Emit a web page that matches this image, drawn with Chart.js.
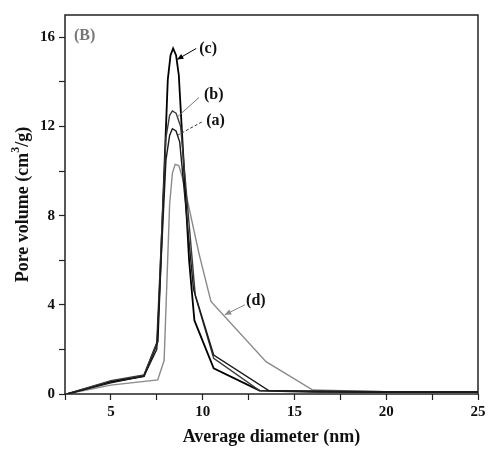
<!DOCTYPE html>
<html>
<head>
<meta charset="utf-8">
<script src="https://cdn.jsdelivr.net/npm/chart.js@4"></script>
<style>
  html, body { margin: 0; padding: 0; background: #fff; }
  #wrap { width: 489px; height: 451px; }
</style>
</head>
<body>
<div id="wrap"><canvas id="poreChart" width="489" height="451"></canvas></div>
<script>
// diameters (nm) and pore volumes (cm3/g)
const xA = [2.6, 5.0, 6.8, 7.5, 8.0, 8.2, 8.35, 8.55, 8.75, 9.5, 10.6, 13.6, 16, 20, 25];
const yA = [0, 0.5, 0.8, 2.0, 10.5, 11.6, 11.9, 11.8, 11.3, 4.7, 1.75, 0.15, 0.12, 0.1, 0.1];

const xB = [2.6, 5.0, 6.8, 7.5, 8.0, 8.2, 8.35, 8.55, 8.8, 9.6, 10.6, 13.1, 16, 20, 25];
const yB = [0, 0.6, 0.85, 2.3, 11.5, 12.5, 12.7, 12.6, 12.0, 4.4, 1.6, 0.15, 0.12, 0.1, 0.1];

const xC = [2.6, 5.0, 6.8, 7.55, 8.1, 8.25, 8.39, 8.55, 8.7, 9.26, 9.55, 10.6, 13.1, 16, 20, 25];
const yC = [0, 0.55, 0.8, 2.35, 14.1, 15.2, 15.5, 15.2, 14.3, 6.0, 3.3, 1.15, 0.15, 0.1, 0.08, 0.08];

const xD = [2.6, 5.0, 7.55, 7.9, 8.2, 8.35, 8.5, 8.7, 8.9, 9.8, 10.45, 13.45, 16, 20, 25];
const yD = [0, 0.4, 0.63, 1.5, 8.5, 9.9, 10.3, 10.25, 9.7, 6.3, 4.15, 1.45, 0.18, 0.1, 0.08];

const seriesNames = ['(a)', '(b)', '(c)', '(d)'];
const seriesColors = ['#1a1a1a', '#3a3a3a', '#000000', '#8a8a8a'];

const xTickLabels = [5, 10, 15, 20, 25];
const yTickLabels = [0, 4, 8, 12, 16];

// annotation labels: [text, textX, textY, lineFromX, lineFromY, lineToX, lineToY, colour, dashed, arrow]
const notes = [
    ['(c)', 10.3, 15.5, 9.65, 15.5, 8.6, 15.0, '#000', false, true],
    ['(b)', 10.6, 13.4, 9.8, 13.3, 8.65, 12.45, '#777', false, false],
    ['(a)', 10.7, 12.27, 9.95, 12.2, 8.62, 11.6, '#333', true, false],
    ['(d)', 12.9, 4.18, 12.3, 4.0, 11.2, 3.55, '#888', false, true]
];

const toPoints = (xs, ys) => xs.map((x, i) => ({ x: x, y: ys[i] }));

const serif = '"Liberation Serif", serif';

const frame = {
    id: 'frame',
    afterDraw(chart) {
        const ctx = chart.ctx;
        const a = chart.chartArea;
        const sx = chart.scales.x, sy = chart.scales.y;
        ctx.save();
        ctx.strokeStyle = '#222';
        ctx.lineWidth = 1.5;
        ctx.strokeRect(a.left, a.top, a.right - a.left, a.bottom - a.top);

        ctx.font = 'bold 16px ' + serif;
        ctx.textBaseline = 'middle';
        ctx.fillStyle = '#777';
        ctx.textAlign = 'left';
        ctx.fillText('(B)', a.left + 9, a.top + 21);

        notes.forEach(n => {
            const [txt, tx, ty, fx, fy, ex, ey, col, dashed, arrow] = n;
            const x1 = sx.getPixelForValue(fx), y1 = sy.getPixelForValue(fy);
            const x2 = sx.getPixelForValue(ex), y2 = sy.getPixelForValue(ey);
            ctx.strokeStyle = col;
            ctx.fillStyle = col;
            ctx.lineWidth = 1;
            ctx.setLineDash(dashed ? [3, 2] : []);
            ctx.beginPath();
            ctx.moveTo(x1, y1);
            ctx.lineTo(x2, y2);
            ctx.stroke();
            ctx.setLineDash([]);
            if (arrow) {
                const ang = Math.atan2(y2 - y1, x2 - x1);
                ctx.beginPath();
                ctx.moveTo(x2, y2);
                ctx.lineTo(x2 - 7 * Math.cos(ang - 0.4), y2 - 7 * Math.sin(ang - 0.4));
                ctx.lineTo(x2 - 7 * Math.cos(ang + 0.4), y2 - 7 * Math.sin(ang + 0.4));
                ctx.closePath();
                ctx.fill();
            }
            ctx.fillStyle = '#111';
            ctx.textAlign = 'center';
            ctx.fillText(txt, sx.getPixelForValue(tx), sy.getPixelForValue(ty));
        });

        // y title with a real superscript
        const parts = [['Pore volume (cm', 18, 0], ['3', 12, -7], ['/g)', 18, 0]];
        let total = 0;
        parts.forEach(p => { ctx.font = 'bold ' + p[1] + 'px ' + serif; total += ctx.measureText(p[0]).width; });
        ctx.translate(23, (a.top + a.bottom) / 2);
        ctx.rotate(-Math.PI / 2);
        ctx.textAlign = 'left';
        ctx.fillStyle = '#111';
        let pos = -total / 2;
        parts.forEach(p => {
            ctx.font = 'bold ' + p[1] + 'px ' + serif;
            ctx.fillText(p[0], pos, p[2]);
            pos += ctx.measureText(p[0]).width;
        });
        ctx.restore();
    }
};

const tickFont = { family: serif, size: 15, weight: 'bold' };
const titleFont = { family: serif, size: 18, weight: 'bold' };

new Chart(document.getElementById('poreChart'), {
    type: 'line',
    data: {
        datasets: [
            { label: seriesNames[0], data: toPoints(xA, yA) },
            { label: seriesNames[1], data: toPoints(xB, yB) },
            { label: seriesNames[2], data: toPoints(xC, yC) },
            { label: seriesNames[3], data: toPoints(xD, yD) }
        ].map((d, i) => Object.assign(d, {
            borderColor: seriesColors[i],
            borderWidth: i === 2 ? 1.8 : 1.4,
            pointRadius: 0,
            fill: false,
            tension: 0
        }))
    },
    plugins: [frame],
    options: {
        responsive: false,
        animation: false,
        layout: { padding: { left: 0, right: 11, top: 15, bottom: 0 } },
        plugins: { legend: { display: false }, tooltip: { enabled: false } },
        scales: {
            x: {
                type: 'linear',
                min: 2.5,
                max: 25,
                afterFit: s => { s.height = 57; },
                border: { display: false },
                grid: { drawOnChartArea: false, tickLength: 6, tickColor: '#222', tickWidth: 1.2 },
                ticks: {
                    stepSize: 2.5,
                    padding: 3,
                    color: '#111',
                    font: tickFont,
                    maxRotation: 0,
                    autoSkip: false,
                    callback: v => xTickLabels.includes(v) ? String(v) : ''
                },
                title: {
                    display: true,
                    text: 'Average diameter (nm)',
                    color: '#111',
                    font: titleFont,
                    padding: { top: 2, bottom: 3 }
                }
            },
            y: {
                min: 0,
                max: 17,
                afterFit: s => { s.width = 65; },
                border: { display: false },
                grid: { drawOnChartArea: false, tickLength: 6, tickColor: '#222', tickWidth: 1.2 },
                ticks: {
                    stepSize: 2,
                    includeBounds: false,
                    padding: 4,
                    color: '#111',
                    font: tickFont,
                    autoSkip: false,
                    callback: v => yTickLabels.includes(v) ? String(v) : ''
                }
            }
        }
    }
});
</script>
</body>
</html>
